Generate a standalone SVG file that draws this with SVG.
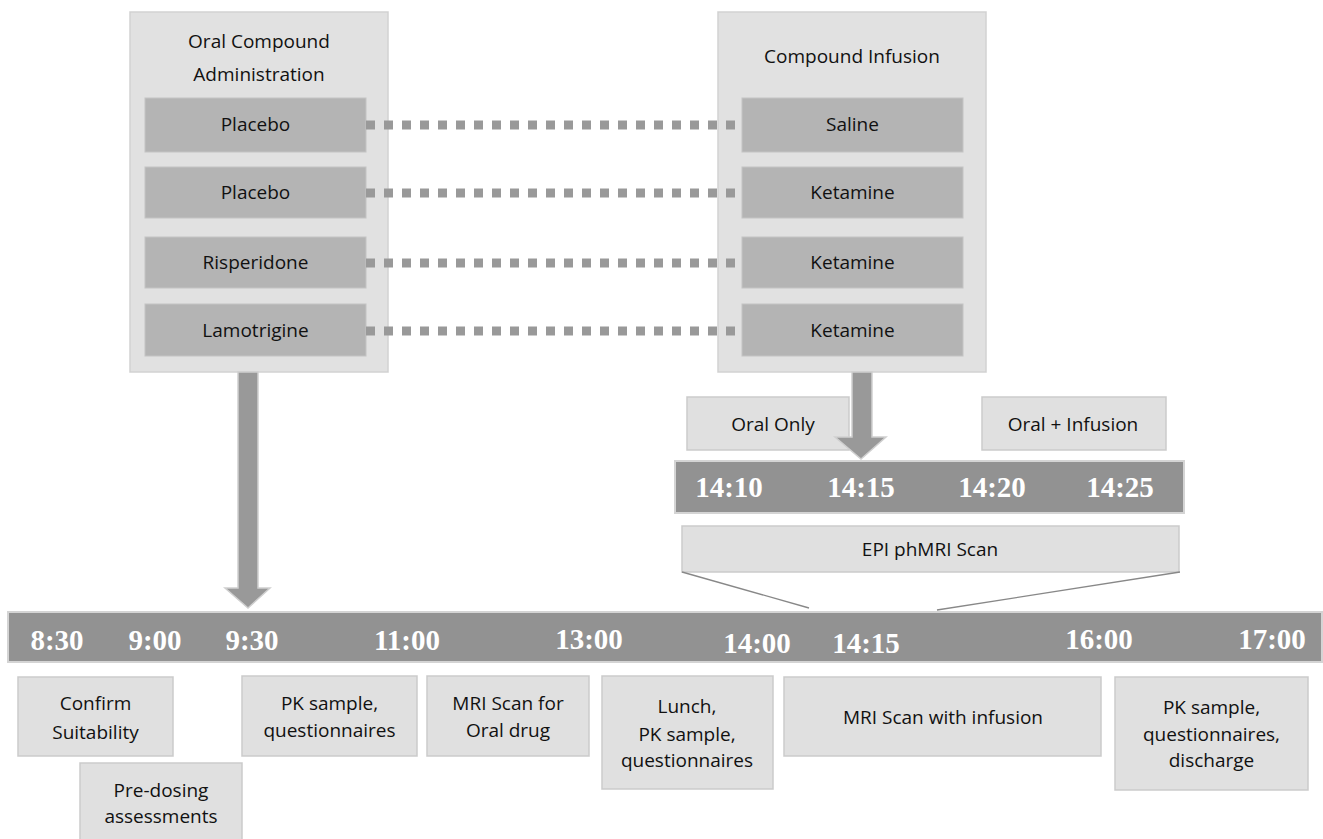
<svg xmlns="http://www.w3.org/2000/svg" width="1323" height="839" viewBox="0 0 1323 839">
<style>
.big{fill:#e1e1e1;stroke:#d2d2d2;stroke-width:1.5}
.inner{fill:#b4b4b4;stroke:#c4c4c4;stroke-width:1}
.ev{fill:#e0e0e0;stroke:#cbcbcb;stroke-width:1.5}
.bar{fill:#929292;stroke:#d4d4d4;stroke-width:2}
.t{font-family:"Open Sans","Liberation Sans",sans-serif;font-size:19px;fill:#111;text-anchor:middle}
.tm{font-family:"Liberation Serif","Times New Roman",serif;font-weight:bold;font-size:29px;fill:#fff;text-anchor:middle}
.dot{stroke:#999;stroke-width:9;stroke-dasharray:9 9;fill:none}
.arr{fill:#999;stroke:#cfcfcf;stroke-width:1.5}
.ln{stroke:#888;stroke-width:1.3;fill:none}
</style>
<g id="oral-admin">
<rect class="big" x="130" y="12" width="258" height="360"/>
<text class="t" x="259" y="48">Oral Compound</text>
<text class="t" x="259" y="81">Administration</text>
</g>
<g id="oral-placebo1"><rect class="inner" x="145" y="98" width="221" height="54"/><text class="t" x="255.5" y="131">Placebo</text></g>
<g id="oral-placebo2"><rect class="inner" x="145" y="167" width="221" height="51"/><text class="t" x="255.5" y="199">Placebo</text></g>
<g id="oral-risperidone"><rect class="inner" x="145" y="237" width="221" height="51"/><text class="t" x="255.5" y="269">Risperidone</text></g>
<g id="oral-lamotrigine"><rect class="inner" x="145" y="304" width="221" height="52"/><text class="t" x="255.5" y="337">Lamotrigine</text></g>
<g id="infusion">
<rect class="big" x="718" y="12" width="268" height="360"/>
<text class="t" x="852" y="63">Compound Infusion</text>
</g>
<g id="inf-saline"><rect class="inner" x="742" y="98" width="221" height="54"/><text class="t" x="852.5" y="131">Saline</text></g>
<g id="inf-ketamine1"><rect class="inner" x="742" y="167" width="221" height="51"/><text class="t" x="852.5" y="199">Ketamine</text></g>
<g id="inf-ketamine2"><rect class="inner" x="742" y="237" width="221" height="51"/><text class="t" x="852.5" y="269">Ketamine</text></g>
<g id="inf-ketamine3"><rect class="inner" x="742" y="304" width="221" height="52"/><text class="t" x="852.5" y="337">Ketamine</text></g>
<g id="oral-only"><rect class="ev" x="687" y="397" width="162" height="53"/><text class="t" x="773" y="431">Oral Only</text></g>
<g id="oral-infusion"><rect class="ev" x="982" y="397" width="184" height="53"/><text class="t" x="1073" y="431">Oral + Infusion</text></g>
<g id="short-timeline">
<rect class="bar" x="675" y="461" width="509" height="52"/>
<text class="tm" x="729" y="497">14:10</text>
<text class="tm" x="861" y="497">14:15</text>
<text class="tm" x="992" y="497">14:20</text>
<text class="tm" x="1120" y="497">14:25</text>
</g>
<g id="epi-scan"><rect class="ev" x="682" y="526" width="497" height="46"/><text class="t" x="930" y="556">EPI phMRI Scan</text></g>
<g id="main-timeline">
<rect class="bar" x="8" y="612" width="1314" height="50"/>
<text class="tm" x="57" y="650">8:30</text>
<text class="tm" x="155" y="650">9:00</text>
<text class="tm" x="252" y="650">9:30</text>
<text class="tm" x="407" y="650">11:00</text>
<text class="tm" x="589" y="649">13:00</text>
<text class="tm" x="757" y="653">14:00</text>
<text class="tm" x="866" y="653">14:15</text>
<text class="tm" x="1099" y="649">16:00</text>
<text class="tm" x="1272" y="649">17:00</text>
</g>
<g id="confirm"><rect class="ev" x="18" y="677" width="155" height="79"/><text class="t" x="95.5" y="710">Confirm</text><text class="t" x="95.5" y="739">Suitability</text></g>
<g id="predosing"><rect class="ev" x="80" y="763" width="162" height="80"/><text class="t" x="161" y="797">Pre-dosing</text><text class="t" x="161" y="823">assessments</text></g>
<g id="pk1"><rect class="ev" x="242" y="676" width="175" height="80"/><text class="t" x="329.5" y="710">PK sample,</text><text class="t" x="329.5" y="737">questionnaires</text></g>
<g id="mri-oral"><rect class="ev" x="427" y="676" width="162" height="80"/><text class="t" x="508" y="710">MRI Scan for</text><text class="t" x="508" y="737">Oral drug</text></g>
<g id="lunch"><rect class="ev" x="602" y="676" width="171" height="113"/><text class="t" x="687" y="713">Lunch,</text><text class="t" x="687" y="741">PK sample,</text><text class="t" x="687" y="767">questionnaires</text></g>
<g id="mri-infusion"><rect class="ev" x="784" y="677" width="317" height="79"/><text class="t" x="943" y="724">MRI Scan with infusion</text></g>
<g id="pk-discharge"><rect class="ev" x="1115" y="677" width="193" height="113"/><text class="t" x="1211.5" y="714">PK sample,</text><text class="t" x="1211.5" y="741">questionnaires,</text><text class="t" x="1211.5" y="767">discharge</text></g>
<g id="connectors">
<line class="dot" x1="366" y1="125" x2="742" y2="125"/>
<line class="dot" x1="366" y1="193" x2="742" y2="193"/>
<line class="dot" x1="366" y1="263" x2="742" y2="263"/>
<line class="dot" x1="366" y1="331" x2="742" y2="331"/>
<polygon class="arr" points="238,372 258,372 258,588 270,588 248,608 225,588 238,588"/>
<polygon class="arr" points="852,372 872,372 872,437 886,437 861,459 835,437 852,437"/>
<line class="ln" x1="682" y1="572" x2="809" y2="608"/>
<line class="ln" x1="1180" y1="572" x2="937" y2="610"/>
</g>
</svg>
